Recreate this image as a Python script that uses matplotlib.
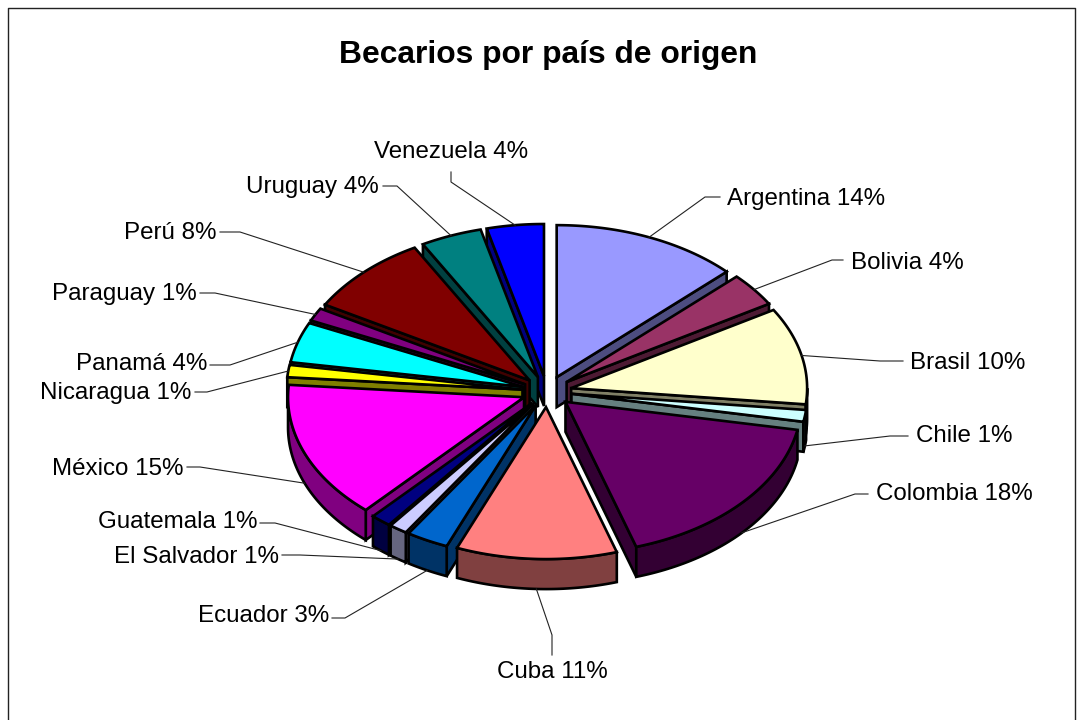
import numpy as np
import matplotlib
matplotlib.use('Agg')
import matplotlib.pyplot as plt
from matplotlib.colors import to_rgb

paises = ['Argentina', 'Bolivia', 'Brasil', 'Chile', 'Colombia', 'Cuba', 'Ecuador',
          'El Salvador', 'Guatemala', 'México', 'Nicaragua', 'Panamá', 'Paraguay',
          'Perú', 'Uruguay', 'Venezuela']
# printed percentages
porcentajes = [14, 4, 10, 1, 18, 11, 3, 1, 1, 15, 1, 4, 1, 8, 4, 4]
# share of the tilted ellipse each slice takes up in the picture
partes = [12.8, 3.6, 10.3, 1.25, 17.2, 11.0, 2.9, 1.25, 1.4, 14.6, 1.3, 4.3, 1.4, 8.6, 4.2, 3.9]
colores = ['#9999FF', '#993366', '#FFFFCC', '#CCFFFF', '#660066', '#FF8080', '#0066CC',
           '#CCCCFF', '#000080', '#FF00FF', '#FFFF00', '#00FFFF', '#800080', '#800000',
           '#008080', '#0000FF']

# label anchor, alignment
etiquetas = [(727, 199, 'left'), (851, 263, 'left'), (910, 363, 'left'), (916, 436, 'left'),
             (876, 494, 'left'), (552, 672, 'center'), (329, 616, 'right'), (279, 557, 'right'),
             (257, 522, 'right'), (183, 469, 'right'), (191, 393, 'right'), (207, 364, 'right'),
             (197, 294, 'right'), (217, 233, 'right'), (379, 187, 'right'), (451, 152, 'center')]
# where the leader starts and where its elbow is
codos = [((720, 197), (705, 197)), ((843, 260), (832, 260)), ((903, 361), (880, 361)),
         ((908, 436), (890, 436)), ((868, 494), (855, 494)), ((552, 655), (552, 635)),
         ((332, 618), (345, 618)), ((282, 555), (300, 555)), ((260, 523), (275, 523)),
         ((187, 467), (200, 467)), ((195, 392), (207, 392)), ((210, 365), (230, 365)),
         ((200, 293), (215, 293)), ((220, 232), (240, 232)), ((383, 186), (397, 186)),
         ((451, 172), (451, 182))]

plt.rcParams['font.family'] = ['Liberation Sans', 'DejaVu Sans']

cx, cy = 547, 391.5
rx, ry = 236, 152
prof = 30
ex, ey = 24.7, 15.6
lw = 1.9

fig = plt.figure(figsize=(10.82, 7.2), dpi=100, facecolor='white')
ax = fig.add_axes([0, 0, 1, 1])
ax.set_xlim(0, 1082)
ax.set_ylim(720, 0)
ax.axis('off')

ax.plot([7.5, 7.5, 1074.5, 1074.5], [725, 7.5, 7.5, 725], color='#222222', lw=1.0)


def borde(a0, a1, t0, t1):
    t = np.radians(np.linspace(t0, t1, 60))
    return a0 + rx * np.sin(t), a1 - ry * np.cos(t)


limites = np.concatenate([[0], np.cumsum(partes)]) / np.sum(partes) * 360
quesos = []
for i in range(len(paises)):
    t0, t1 = limites[i], limites[i + 1]
    m = np.radians((t0 + t1) / 2)
    quesos.append((np.cos(m), i, t0, t1, cx + ex * np.sin(m), cy - ey * np.cos(m), m))

# back to front
for _, i, t0, t1, ax0, ay0, m in sorted(quesos, key=lambda q: -q[0]):
    col = np.array(to_rgb(colores[i]))
    osc = col * 0.5
    for t, visible in ((t0, np.sin(np.radians(t0)) < 0), (t1, np.sin(np.radians(t1)) > 0)):
        if visible:
            x1, y1 = borde(ax0, ay0, t, t)
            ax.fill([ax0, x1[0], x1[0], ax0], [ay0, y1[0], y1[0] + prof, ay0 + prof],
                    facecolor=osc, edgecolor='black', lw=lw, joinstyle='miter')
    a, b = max(t0, 90), min(t1, 270)
    if a < b:
        xs, ys = borde(ax0, ay0, a, b)
        ax.fill(np.r_[xs, xs[::-1]], np.r_[ys, ys[::-1] + prof],
                facecolor=osc, edgecolor='black', lw=lw, joinstyle='miter')
    xs, ys = borde(ax0, ay0, t0, t1)
    ax.fill(np.r_[ax0, xs], np.r_[ay0, ys], facecolor=col, edgecolor='black', lw=lw,
            joinstyle='miter')

for _, i, t0, t1, ax0, ay0, m in quesos:
    px = ax0 + rx * np.sin(m)
    py = ay0 - ry * np.cos(m)
    if np.cos(m) < 0:
        py += prof
    (x0, y0), (x1, y1) = codos[i]
    ax.plot([x0, x1, px], [y0, y1, py], color='#222222', lw=0.8, zorder=5)
    lx, ly, ha = etiquetas[i]
    ax.text(lx, ly, f'{paises[i]} {porcentajes[i]}%', ha=ha, va='center', fontsize=17.4,
            color='black', zorder=6)

ax.text(548, 55, 'Becarios por país de origen', ha='center', va='center', fontsize=22.9,
        fontweight='bold', color='black')

fig.savefig('out.png', dpi=100)
